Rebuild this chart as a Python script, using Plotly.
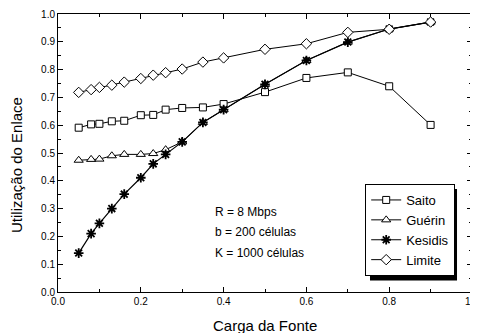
import plotly.graph_objects as go

carga = [0.05, 0.08, 0.10, 0.13, 0.16, 0.20, 0.23, 0.26, 0.30, 0.35, 0.40, 0.50, 0.60, 0.70, 0.80, 0.90]
saito = [0.591, 0.603, 0.605, 0.614, 0.616, 0.636, 0.637, 0.656, 0.662, 0.664, 0.676, 0.719, 0.770, 0.790, 0.740, 0.601]
guerin = [0.474, 0.477, 0.478, 0.490, 0.495, 0.495, 0.498, 0.512, 0.540, 0.610, 0.656, 0.747, 0.833, 0.899, 0.946, 0.971]
kesidis = [0.140, 0.210, 0.247, 0.300, 0.352, 0.411, 0.461, 0.495, 0.540, 0.610, 0.656, 0.747, 0.833, 0.899, 0.946, 0.971]
limite = [0.718, 0.728, 0.736, 0.744, 0.755, 0.768, 0.780, 0.789, 0.802, 0.827, 0.842, 0.873, 0.893, 0.934, 0.945, 0.971]

x_ticks = [0.0, 0.2, 0.4, 0.6, 0.8, 1.0]
y_ticks = [0.0, 0.1, 0.2, 0.3, 0.4, 0.5, 0.6, 0.7, 0.8, 0.9, 1.0]
x_title = "Carga da Fonte"
y_title = "Utilização do Enlace"
notes = ["R = 8 Mbps", "b = 200 células", "K = 1000 células"]
note_y = [0.289, 0.216, 0.140]

FONT = "Liberation Sans, Arial, sans-serif"

fig = go.Figure()
fig.add_trace(go.Scatter(x=carga, y=saito, name="Saito", mode="lines+markers",
                         line=dict(color="black", width=1),
                         marker=dict(symbol="square", size=7, color="white", line=dict(color="black", width=1))))
fig.add_trace(go.Scatter(x=carga, y=guerin, name="Guérin", mode="lines+markers",
                         line=dict(color="black", width=1),
                         marker=dict(symbol="triangle-up", size=8, color="white", line=dict(color="black", width=1))))
fig.add_trace(go.Scatter(x=carga, y=kesidis, name="Kesidis", mode="lines+markers",
                         line=dict(color="black", width=1.2),
                         marker=dict(symbol="asterisk-open", size=8, color="black", line=dict(color="black", width=1.8))))
fig.add_trace(go.Scatter(x=carga, y=limite, name="Limite", mode="lines+markers",
                         line=dict(color="black", width=1),
                         marker=dict(symbol="diamond", size=8, color="white", line=dict(color="black", width=1))))

for t, yy in zip(notes, note_y):
    fig.add_annotation(x=0.374, y=yy, xref="x", yref="y", text=t, showarrow=False,
                       xanchor="left", yanchor="middle", font=dict(size=12, color="black", family=FONT))

# axis titles
fig.add_annotation(x=0.5, y=-0.119, xref="paper", yref="paper", text=x_title, showarrow=False,
                   xanchor="center", yanchor="middle", font=dict(size=15, color="black", family=FONT))
fig.add_annotation(x=-0.099, y=0.457, xref="paper", yref="paper", text=y_title, showarrow=False,
                   textangle=-90, xanchor="center", yanchor="middle",
                   font=dict(size=15, color="black", family=FONT))

# legend shadow
fig.add_shape(type="rect", xref="paper", yref="paper", x0=0.7536, x1=0.9638, y0=0.041, y1=0.3705,
              fillcolor="black", line=dict(width=0), layer="above")

axis_common = dict(range=[0, 1], showgrid=False, zeroline=False, showline=True, linecolor="black",
                   linewidth=1, mirror="ticks", ticks="inside", ticklen=5, tickcolor="black",
                   automargin=False, ticklabeloverflow="allow",
                   tickfont=dict(size=10, color="black", family=FONT))

fig.update_xaxes(**axis_common, tickvals=x_ticks, ticktext=[f"{v:.1f}" for v in x_ticks],
                 minor=dict(dtick=0.1, tick0=0, ticks="inside", ticklen=3, tickcolor="black"))
fig.update_yaxes(**axis_common, tickvals=y_ticks, ticktext=[f"{v:.1f}" for v in y_ticks],
                 minor=dict(dtick=0.05, tick0=0, ticks="inside", ticklen=3, tickcolor="black"))

fig.update_layout(width=470, height=325, margin=dict(l=50, r=6, t=6, b=41),
                  paper_bgcolor="white", plot_bgcolor="white",
                  font=dict(family=FONT, color="black"),
                  legend=dict(x=0.742, y=0.3885, xanchor="left", yanchor="top", bgcolor="white",
                              bordercolor="black", borderwidth=1, font=dict(size=13, color="black", family=FONT),
                              itemwidth=30))
fig.write_html("out.html")
